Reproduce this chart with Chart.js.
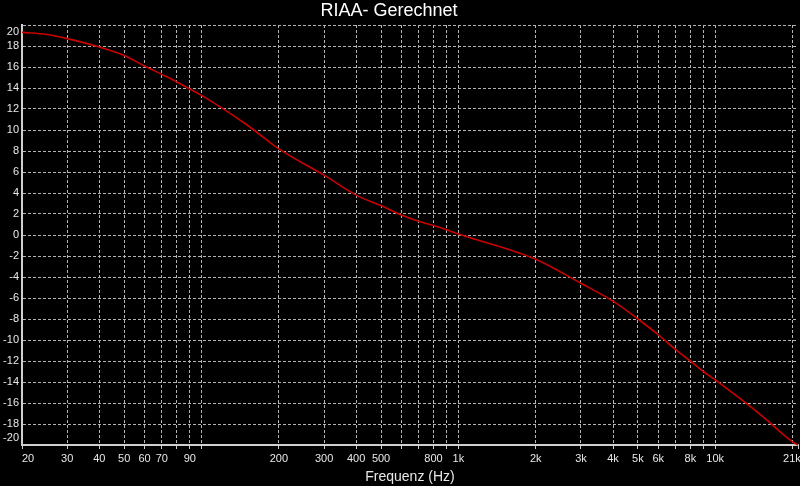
<!DOCTYPE html>
<html>
<head>
<meta charset="utf-8">
<script src="https://cdn.jsdelivr.net/npm/chart.js@4/dist/chart.umd.min.js"></script>
<style>
  html, body { margin: 0; padding: 0; background: #000; overflow: hidden; }
  #wrap { width: 800px; height: 486px; position: relative; }
</style>
</head>
<body>
<div id="wrap"><canvas id="c"></canvas></div>
<script>
// ---- data ----
const chartTitle = 'RIAA- Gerechnet';
const xAxisTitle = 'Frequenz (Hz)';
const freqs = [20, 25, 30, 40, 50, 60, 70, 80, 90, 100, 150, 200, 300, 400, 500, 600, 700, 800, 900, 1000,
               2000, 3000, 4000, 5000, 6000, 7000, 8000, 9000, 10000, 15000, 20000, 21000];
const gainDb = [19.3, 19.1, 18.7, 17.9, 17.1, 16.1, 15.3, 14.6, 13.9, 13.3, 10.5, 8.2, 5.7, 3.8, 2.8, 1.9, 1.3, 0.9, 0.5, 0.1,
                -2.3, -4.6, -6.3, -8.0, -9.5, -10.9, -12.0, -13.0, -13.8, -17.1, -19.7, -20.0];
const xGridValues = [20, 30, 40, 50, 60, 70, 80, 90, 100, 200, 300, 400, 500, 600, 700, 800, 900,
                     1000, 2000, 3000, 4000, 5000, 6000, 7000, 8000, 9000, 10000, 20000, 21000];
const xLabelValues = [20, 30, 40, 50, 60, 70, 90, 200, 300, 400, 500, 800, 1000, 2000, 3000, 4000, 5000, 6000, 8000, 10000, 21000];
const xLabelTexts  = ['20', '30', '40', '50', '60', '70', '90', '200', '300', '400', '500', '800', '1k', '2k', '3k', '4k', '5k', '6k', '8k', '10k', '21k'];
const yMin = -20, yMax = 20, yStep = 2;

// ---- chart ----
const GRID = '#b4b4b4';
const TEXT = '#e8e8e8';
const AXIS = '#cfcfcf';

const bgAndTitle = {
  id: 'bgAndTitle',
  beforeDraw(chart) {
    const ctx = chart.ctx;
    ctx.save();
    ctx.fillStyle = '#000';
    ctx.fillRect(0, 0, chart.width, chart.height);
    ctx.restore();
  },
  afterDraw(chart) {
    const ctx = chart.ctx;
    ctx.save();
    ctx.fillStyle = '#ffffff';
    ctx.font = '18px "Liberation Sans", Arial, sans-serif';
    ctx.textAlign = 'center';
    ctx.textBaseline = 'middle';
    ctx.fillText(chartTitle, 389, 11);
    ctx.restore();
  }
};

new Chart(document.getElementById('c'), {
  type: 'line',
  data: {
    datasets: [{
      data: freqs.map((f, i) => ({ x: f, y: gainDb[i] })),
      borderColor: '#cc0000',
      borderWidth: 1.6,
      pointRadius: 0,
      cubicInterpolationMode: 'monotone',
      fill: false,
      clip: 4
    }]
  },
  options: {
    responsive: true,
    maintainAspectRatio: false,
    animation: false,
    events: [],
    layout: { padding: { top: 25, right: 2, left: 0, bottom: 0 } },
    plugins: { legend: { display: false }, tooltip: { enabled: false }, title: { display: false } },
    scales: {
      x: {
        type: 'logarithmic',
        min: 20,
        max: 21000,
        afterBuildTicks(scale) { scale.ticks = xGridValues.map(v => ({ value: v })); },
        afterFit(scale) { scale.height = 41; scale.paddingLeft = 0; scale.paddingRight = 0; },
        border: { display: true, color: AXIS, width: 2, dash: [3, 2] },
        grid: {
          color: ctx => (ctx.tick && (ctx.tick.value === 21000 || ctx.tick.value === 20)) ? 'rgba(0,0,0,0)' : GRID,
          lineWidth: 1,
          drawTicks: true,
          tickLength: 4,
          tickColor: AXIS,
          tickBorderDash: [],
          tickWidth: 1
        },
        ticks: {
          autoSkip: false,
          maxRotation: 0,
          minRotation: 0,
          padding: 3,
          color: TEXT,
          font: { family: '"Liberation Sans", Arial, sans-serif', size: 11 },
          callback(value) {
            const i = xLabelValues.indexOf(value);
            if (i < 0) return '';
            if (value === 20) return '    ' + xLabelTexts[i];
            if (value === 21000) return xLabelTexts[i] + '    ';
            return xLabelTexts[i];
          }
        },
        title: {
          display: true,
          text: xAxisTitle,
          color: TEXT,
          font: { family: '"Liberation Sans", Arial, sans-serif', size: 14 },
          padding: { top: 0, bottom: 0 }
        }
      },
      y: {
        type: 'linear',
        min: yMin,
        max: yMax,
        afterFit(scale) { scale.width = 22; scale.paddingTop = 0; scale.paddingBottom = 0; },
        border: { display: true, color: AXIS, width: 2, dash: [3, 2] },
        grid: {
          color: GRID,
          lineWidth: 1,
          drawTicks: false
        },
        ticks: {
          stepSize: yStep,
          autoSkip: false,
          padding: 3,
          color: TEXT,
          font: { family: '"Liberation Sans", Arial, sans-serif', size: 11 },
          callback(value) {
            if (value === yMax) return ['', String(value)];
            if (value === yMin) return [String(value), ''];
            return String(value);
          }
        }
      }
    }
  },
  plugins: [bgAndTitle]
});
</script>
</body>
</html>
